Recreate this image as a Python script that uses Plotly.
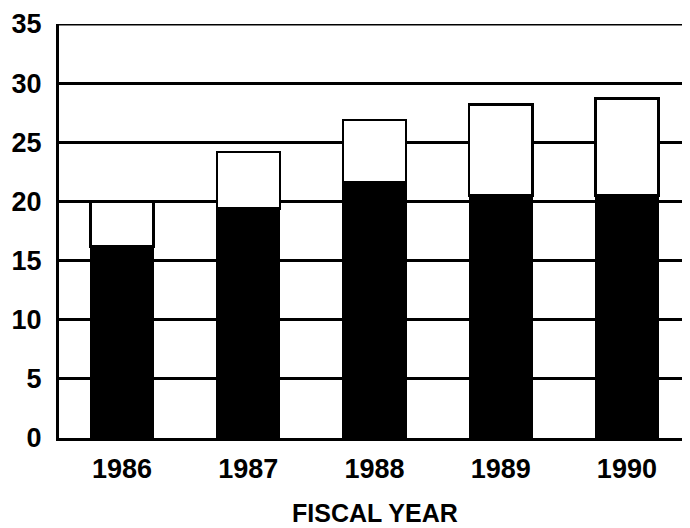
import plotly.graph_objects as go

years = ["1986", "1987", "1988", "1989", "1990"]
lower_values = [16.2, 19.4, 21.6, 20.5, 20.5]
upper_values = [3.8, 4.8, 5.3, 7.7, 8.2]
y_ticks = [0, 5, 10, 15, 20, 25, 30, 35]

FONT = "Liberation Sans, Arial, sans-serif"

fig = go.Figure()
fig.add_trace(go.Bar(
    x=years, y=lower_values, width=0.5,
    marker=dict(color="black", line=dict(color="black", width=1)),
    showlegend=False,
))
fig.add_trace(go.Bar(
    x=years, y=upper_values, width=0.5,
    marker=dict(color="white", line=dict(color="black", width=2.5)),
    showlegend=False,
))

fig.update_layout(
    barmode="stack",
    width=682, height=520,
    margin=dict(l=51, r=0, t=16, b=90),
    paper_bgcolor="white", plot_bgcolor="white",
    font=dict(family=FONT, color="black"),
    xaxis=dict(
        type="category", range=[-0.5, 4.5], automargin=False,
        showgrid=False, showline=True, linecolor="black", linewidth=3,
        ticks="", tickfont=dict(size=27, family=FONT, weight="bold"),
        ticklabelstandoff=5,
    ),
    yaxis=dict(
        range=[0, 35], tickvals=y_ticks, automargin=False,
        showgrid=True, gridcolor="black", gridwidth=2.5,
        showline=True, linecolor="black", linewidth=3,
        zeroline=False, ticks="",
        tickfont=dict(size=27, family=FONT, weight="bold"),
        ticklabelstandoff=9,
    ),
    shapes=[dict(type="line", xref="paper", yref="y", x0=0, x1=1, y0=35, y1=35,
                 line=dict(color="black", width=3), layer="above")],
    annotations=[dict(text="FISCAL YEAR", xref="paper", yref="paper",
                      x=(375 - 59) / 631, y=-(513 - 438) / 414,
                      xanchor="center", yanchor="middle", showarrow=False,
                      font=dict(size=25, family=FONT, weight="bold"))],
)

fig.write_html("out.html")
